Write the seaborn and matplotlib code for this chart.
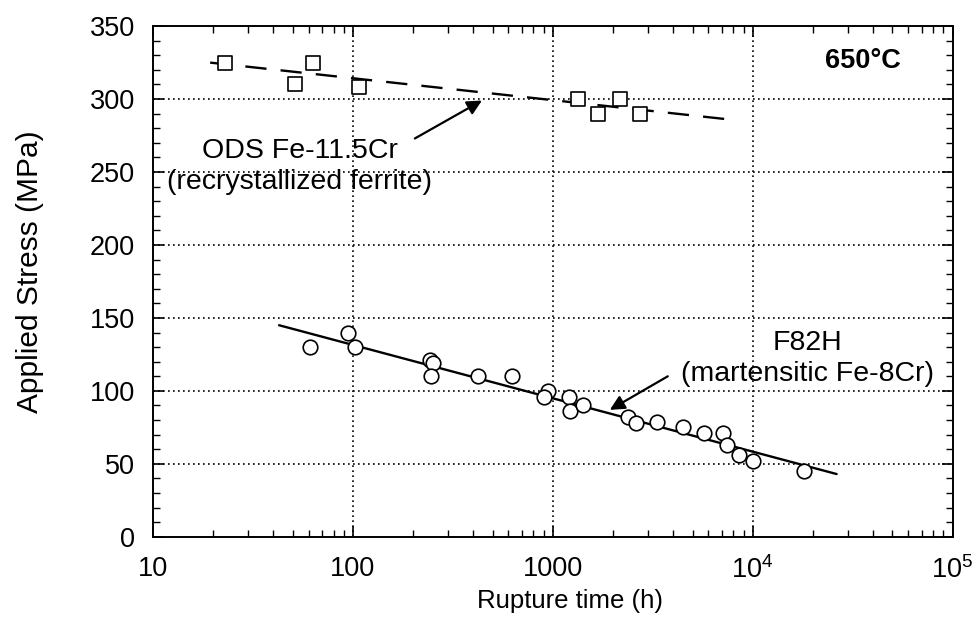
"""Creep rupture data at 650 C: ODS Fe-11.5Cr vs F82H."""

import matplotlib
matplotlib.use("Agg")
import matplotlib.pyplot as plt
import pandas as pd
import seaborn as sns
from matplotlib.ticker import FixedLocator, LogLocator, MultipleLocator, NullFormatter

# ODS Fe-11.5Cr (recrystallized ferrite), open squares
ods_time = [23, 51, 63, 107, 1330, 1680, 2160, 2720]
ods_stress = [325, 310, 325, 308, 300, 290, 300, 290]
ods_fit_time = [19.3, 7650]
ods_fit_stress = [325, 286]

# F82H (martensitic Fe-8Cr), open circles
f82h_time = [61, 95, 102, 243, 251, 246, 422, 624, 944, 902, 1200, 1215,
             1410, 2370, 2600, 3310, 4470, 5690, 7080, 7410, 8510, 10000, 18000]
f82h_stress = [130, 140, 130, 121, 119, 110, 110, 110, 100, 96, 96, 86,
               90, 82, 78, 79, 75, 71, 71, 63, 56, 52, 45]
f82h_fit_time = [42.7, 26300]
f82h_fit_stress = [145, 43]

x_ticks = [10, 100, 1000, 1e4, 1e5]
x_tick_labels = ["10", "100", "1000", r"10$^{4}$", r"10$^{5}$"]
y_ticks = [0, 50, 100, 150, 200, 250, 300, 350]

sns.set_theme(style="ticks")
plt.rcParams["font.family"] = ["Liberation Sans", "DejaVu Sans"]
plt.rcParams["mathtext.fontset"] = "custom"
plt.rcParams["mathtext.rm"] = "Liberation Sans"
for key in ["text.color", "axes.labelcolor", "xtick.color", "ytick.color",
            "axes.edgecolor"]:
    plt.rcParams[key] = "black"

ods_df = pd.DataFrame({"time": ods_time, "stress": ods_stress})
f82h_df = pd.DataFrame({"time": f82h_time, "stress": f82h_stress})
ods_fit = pd.DataFrame({"time": ods_fit_time, "stress": ods_fit_stress})
f82h_fit = pd.DataFrame({"time": f82h_fit_time, "stress": f82h_fit_stress})

fig, ax = plt.subplots(figsize=(9.75, 6.22), dpi=100)
fig.subplots_adjust(left=0.157, right=0.977, bottom=0.137, top=0.958)

ax.set_xscale("log")
ax.set_xlim(10, 1e5)
ax.set_ylim(0, 350)

# dotted grid at the inner major ticks
for gx in [100, 1000, 1e4]:
    ax.axvline(gx, color="black", ls=(0, (1, 2)), lw=1.2, zorder=1)
for gy in [50, 100, 150, 200, 250, 300]:
    ax.axhline(gy, color="black", ls=(0, (1, 2)), lw=1.2, zorder=1)

sns.lineplot(data=ods_fit, x="time", y="stress", ax=ax, color="black",
             lw=1.7, zorder=2)
ax.lines[-1].set_dashes((9, 6))
sns.lineplot(data=f82h_fit, x="time", y="stress", ax=ax, color="black",
             lw=1.7, zorder=2)

sns.scatterplot(data=ods_df, x="time", y="stress", ax=ax, marker="s", s=95,
                facecolor="white", edgecolor="black", linewidth=1.2, zorder=3)
sns.scatterplot(data=f82h_df, x="time", y="stress", ax=ax, marker="o", s=110,
                facecolor="white", edgecolor="black", linewidth=1.2, zorder=3)

ax.text(54, 254, "ODS Fe-11.5Cr\n(recrystallized ferrite)", ha="center",
        va="center", fontsize=20.5, linespacing=1.25)
ax.annotate("", xy=(442, 299), xytext=(204, 273),
            arrowprops=dict(arrowstyle="-|>", color="black", lw=1.6,
                            mutation_scale=22, shrinkA=0, shrinkB=0))
ax.text(18800, 122, "F82H\n(martensitic Fe-8Cr)", ha="center", va="center",
        fontsize=20.5, linespacing=1.25)
ax.annotate("", xy=(1928, 87), xytext=(3760, 110),
            arrowprops=dict(arrowstyle="-|>", color="black", lw=1.6,
                            mutation_scale=22, shrinkA=0, shrinkB=0))
ax.text(35500, 326, "650°C", ha="center", va="center",
        fontsize=19.5, fontweight="bold")

ax.xaxis.set_major_locator(FixedLocator(x_ticks))
ax.set_xticklabels(x_tick_labels)
ax.xaxis.set_minor_locator(LogLocator(base=10, subs=range(2, 10)))
ax.xaxis.set_minor_formatter(NullFormatter())
ax.set_yticks(y_ticks)
ax.yaxis.set_minor_locator(MultipleLocator(10))

ax.tick_params(which="both", direction="in", top=True, right=True,
               labelsize=19.5)
ax.tick_params(axis="x", which="major", pad=14)
ax.tick_params(axis="y", which="major", pad=13)
ax.tick_params(which="major", length=8, width=1.2)
ax.tick_params(which="minor", length=5, width=1.0)
for side in ax.spines.values():
    side.set_linewidth(1.4)

ax.set_xlabel("Rupture time (h)", fontsize=18.5)
ax.set_ylabel("Applied Stress (MPa)", fontsize=21.5)
ax.xaxis.set_label_coords(0.521, -0.102)
ax.yaxis.set_label_coords(-0.137, 0.52)

fig.savefig("out.png", dpi=100)
